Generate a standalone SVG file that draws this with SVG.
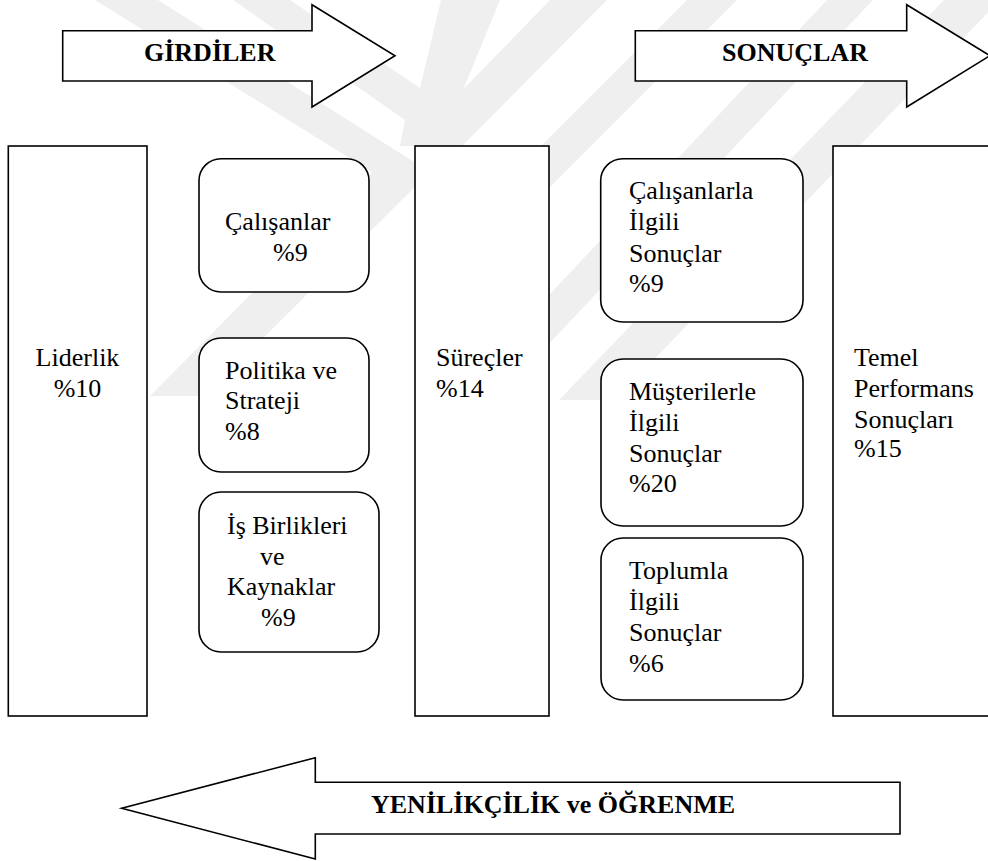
<svg xmlns="http://www.w3.org/2000/svg" width="988" height="861" viewBox="0 0 988 861">
  <style>
    .box { fill: #ffffff; stroke: #000000; stroke-width: 1.6; }
    .arrow { fill: #ffffff; stroke: #000000; stroke-width: 1.6; stroke-linejoin: miter; }
    .lbl { font-family: "Liberation Serif", "Times New Roman", serif; font-size: 26px; fill: #000000; }
    .head { font-family: "Liberation Serif", "Times New Roman", serif; font-size: 26px; font-weight: bold; fill: #000000; }
    .wm { fill: #efefef; }
  </style>

  <rect x="0" y="0" width="988" height="861" fill="#ffffff"/>

  <!-- faint background emblem -->
  <g id="watermark">
    <polygon class="wm" points="95,0 158,0 430,172 205,396 150,396 372,172"/>
    <polygon class="wm" points="233,0 290,0 420,88 441,0 500,0 440,146 400,146 405,120"/>
    <polygon class="wm" points="550,0 607,0 462,146 408,146"/>
    <polygon class="wm" points="687,0 737,0 507,230 457,230"/>
    <polygon class="wm" points="827,0 873,0 496,400 450,400"/>
    <polygon class="wm" points="944,0 1000,0 615,400 559,400"/>
  </g>

  <!-- flow arrows -->
  <g id="connectors">
    <g id="arrow-girdiler">
      <polygon class="arrow" points="62.7,30.7 312,30.7 312,4.7 395,55.7 312,107 312,81 62.7,81"/>
      <text class="head" x="144" y="61">GİRDİLER</text>
    </g>
    <g id="arrow-sonuclar">
      <polygon class="arrow" points="635.3,30.7 906.7,30.7 906.7,4.7 990,55.7 906.7,107 906.7,81 635.3,81"/>
      <text class="head" x="722" y="61">SONUÇLAR</text>
    </g>
    <g id="arrow-yenilikcilik">
      <polygon class="arrow" points="900,782.3 315.3,782.3 315.3,757.7 121.7,808.3 315.3,859 315.3,834 900,834"/>
      <text class="head" x="371" y="813">YENİLİKÇİLİK ve ÖĞRENME</text>
    </g>
  </g>

  <!-- enablers -->
  <g id="liderlik">
    <rect class="box" x="8.3" y="146" width="138.7" height="570"/>
    <text class="lbl" x="77.5" y="366" text-anchor="middle">Liderlik</text>
    <text class="lbl" x="77.5" y="397" text-anchor="middle">%10</text>
  </g>

  <g id="calisanlar">
    <rect class="box" x="199" y="158.7" width="170" height="133.3" rx="22" ry="22"/>
    <text class="lbl" x="225" y="230">Çalışanlar</text>
    <text class="lbl" x="273" y="261">%9</text>
  </g>

  <g id="politika-strateji">
    <rect class="box" x="199" y="338" width="170" height="134" rx="22" ry="22"/>
    <text class="lbl" x="225" y="379">Politika ve</text>
    <text class="lbl" x="225" y="409">Strateji</text>
    <text class="lbl" x="225" y="440">%8</text>
  </g>

  <g id="is-birlikleri">
    <rect class="box" x="199" y="492" width="180" height="160" rx="22" ry="22"/>
    <text class="lbl" x="227" y="534">İş Birlikleri</text>
    <text class="lbl" x="260" y="565">ve</text>
    <text class="lbl" x="227" y="595">Kaynaklar</text>
    <text class="lbl" x="261" y="626">%9</text>
  </g>

  <g id="surecler">
    <rect class="box" x="415" y="146" width="134" height="570"/>
    <text class="lbl" x="436" y="366">Süreçler</text>
    <text class="lbl" x="436" y="397">%14</text>
  </g>

  <!-- results -->
  <g id="calisan-sonuclari">
    <rect class="box" x="600.7" y="158.7" width="202.3" height="163.3" rx="22" ry="22"/>
    <text class="lbl" x="629" y="199">Çalışanlarla</text>
    <text class="lbl" x="629" y="230">İlgili</text>
    <text class="lbl" x="629" y="262">Sonuçlar</text>
    <text class="lbl" x="629" y="292">%9</text>
  </g>

  <g id="musteri-sonuclari">
    <rect class="box" x="601" y="359" width="202" height="167" rx="22" ry="22"/>
    <text class="lbl" x="629" y="400">Müşterilerle</text>
    <text class="lbl" x="629" y="431">İlgili</text>
    <text class="lbl" x="629" y="462">Sonuçlar</text>
    <text class="lbl" x="629" y="492">%20</text>
  </g>

  <g id="toplum-sonuclari">
    <rect class="box" x="601" y="538" width="202" height="162" rx="22" ry="22"/>
    <text class="lbl" x="629" y="579">Toplumla</text>
    <text class="lbl" x="629" y="610">İlgili</text>
    <text class="lbl" x="629" y="641">Sonuçlar</text>
    <text class="lbl" x="629" y="672">%6</text>
  </g>

  <g id="temel-performans">
    <rect class="box" x="833" y="146" width="165" height="570"/>
    <text class="lbl" x="854" y="366">Temel</text>
    <text class="lbl" x="854" y="397">Performans</text>
    <text class="lbl" x="854" y="428">Sonuçları</text>
    <text class="lbl" x="854" y="457">%15</text>
  </g>
</svg>
